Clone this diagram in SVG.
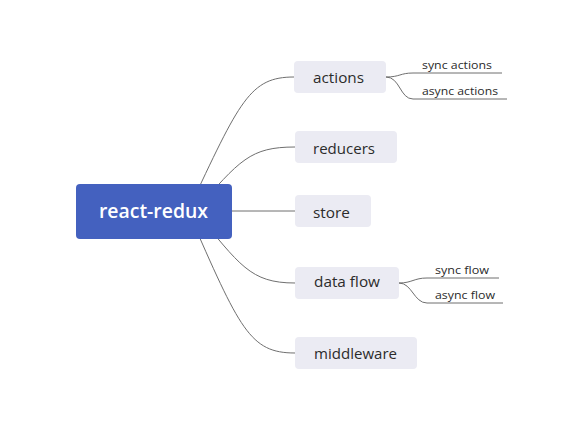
<svg xmlns="http://www.w3.org/2000/svg" width="582" height="422" viewBox="0 0 582 422">
<style>
.ln{fill:none;stroke:#6f6f6f;stroke-width:1}
.box{fill:#ebebf3}
.t{font-family:"Open Sans","Noto Sans",sans-serif;font-size:15px;fill:#2b2b2b}
.s{font-family:"Open Sans","Noto Sans",sans-serif;font-size:11.5px;fill:#2b2b2b}
.r{font-family:"Open Sans","Noto Sans",sans-serif;font-size:19px;font-weight:600;fill:#fff}
</style>
<rect width="582" height="422" fill="#fff"/>
<g id="connectors">
<path class="ln" d="M188,211 C240,100 250,77 294,77"/>
<path class="ln" d="M195,211 C240,160 250,147 295,147"/>
<path class="ln" d="M200,211 L295,211"/>
<path class="ln" d="M195,211 C240,265 250,283 295,283"/>
<path class="ln" d="M188,211 C240,330 250,353 295,353"/>
<path class="ln" d="M386,77 C400,77 400,73 413,73 L502,73"/>
<path class="ln" d="M386,77 C400,77 400,99 413,99 L507,99"/>
<path class="ln" d="M399,283 C412,283 414,278 427,278 L499,278"/>
<path class="ln" d="M399,283 C412,283 414,303 427,303 L503,303"/>
</g>
<g id="root">
<rect x="76" y="184" width="156" height="55" rx="4" fill="#4461bf"/>
<text class="r" x="99" y="218" textLength="109" lengthAdjust="spacingAndGlyphs">react-redux</text>
</g>
<g id="actions">
<rect class="box" x="294" y="61" width="92" height="32" rx="4"/>
<text class="t" x="313" y="83" textLength="51" lengthAdjust="spacingAndGlyphs">actions</text>
</g>
<g id="reducers">
<rect class="box" x="295" y="131" width="102" height="32" rx="4"/>
<text class="t" x="313" y="154" textLength="62" lengthAdjust="spacingAndGlyphs">reducers</text>
</g>
<g id="store">
<rect class="box" x="295" y="195" width="76" height="32" rx="4"/>
<text class="t" x="313" y="218" textLength="37" lengthAdjust="spacingAndGlyphs">store</text>
</g>
<g id="dataflow">
<rect class="box" x="295" y="267" width="104" height="32" rx="4"/>
<text class="t" x="314" y="287" textLength="66" lengthAdjust="spacingAndGlyphs">data flow</text>
</g>
<g id="middleware">
<rect class="box" x="295" y="337" width="122" height="32" rx="4"/>
<text class="t" x="314" y="359" textLength="83" lengthAdjust="spacingAndGlyphs">middleware</text>
</g>
<g id="sync-actions"><text class="s" x="422" y="69" textLength="70" lengthAdjust="spacingAndGlyphs">sync actions</text></g>
<g id="async-actions"><text class="s" x="422" y="95" textLength="76" lengthAdjust="spacingAndGlyphs">async actions</text></g>
<g id="sync-flow"><text class="s" x="435" y="274" textLength="54" lengthAdjust="spacingAndGlyphs">sync flow</text></g>
<g id="async-flow"><text class="s" x="435" y="299" textLength="60" lengthAdjust="spacingAndGlyphs">async flow</text></g>
</svg>
